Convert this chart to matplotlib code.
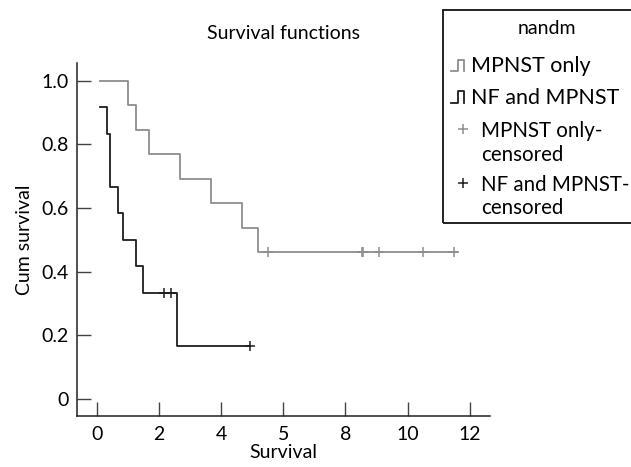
import numpy as np
import matplotlib
matplotlib.use("Agg")
import matplotlib.pyplot as plt
from matplotlib.lines import Line2D
from matplotlib.patches import Rectangle

plt.rcParams['font.family'] = ['Lato', 'DejaVu Sans']

# Kaplan-Meier estimates
mpnst_times = [0.1, 1.02, 1.25, 1.68, 2.68, 3.68, 4.68, 5.2, 11.6]
mpnst_surv = [1.0, 0.923, 0.846, 0.769, 0.692, 0.615, 0.538, 0.462, 0.462]
mpnst_cens_times = [5.52, 8.52, 8.57, 9.09, 10.5, 11.5]
mpnst_cens_surv = [0.462, 0.462, 0.462, 0.462, 0.462, 0.462]

nf_times = [0.1, 0.34, 0.43, 0.67, 0.84, 1.25, 1.5, 2.59, 4.93]
nf_surv = [0.917, 0.833, 0.667, 0.583, 0.5, 0.417, 0.333, 0.167, 0.167]
nf_cens_times = [2.17, 2.39, 4.93]
nf_cens_surv = [0.333, 0.333, 0.167]

x_ticks = [0, 2, 4, 6, 8, 10, 12]
x_ticklabels = ["0", "2", "4", "5", "8", "10", "12"]   # as printed in the original
y_ticks = [0, 0.2, 0.4, 0.6, 0.8, 1.0]
y_ticklabels = ["0", "0.2", "0.4", "0.6", "0.8", "1.0"]

legend_title = "nandm"
legend_labels = ["MPNST only", "NF and MPNST"]
legend_cens_labels = [["MPNST only-", "censored"], ["NF and MPNST-", "censored"]]

gray = "#8e8e8e"
dark = "#1e1e1e"

W, H = 631, 467
fig = plt.figure(figsize=(W / 100, H / 100), dpi=100)
ax = fig.add_axes([76.7 / W, 1 - 416 / H, (490 - 76.7) / W, (416 - 63) / H])

ax.step(mpnst_times, mpnst_surv, where="post", color=gray, lw=1.3)
ax.step(nf_times, nf_surv, where="post", color=dark, lw=1.3)
ax.plot(mpnst_cens_times, mpnst_cens_surv, "+", color=gray, ms=7, mew=1.1)
ax.plot(nf_cens_times, nf_cens_surv, "+", color=dark, ms=7, mew=1.1)

ax.set_xlim(-0.643, 12.65)
ax.set_ylim(-0.053, 1.055)
ax.set_xticks(x_ticks)
ax.set_xticklabels(x_ticklabels)
ax.set_yticks(y_ticks)
ax.set_yticklabels(y_ticklabels)
ax.tick_params(direction="in", length=10, width=1, color="#444444", labelsize=14, pad=6)
ax.tick_params(axis="x", pad=7)
for s in ["top", "right"]:
    ax.spines[s].set_visible(False)
for s in ["left", "bottom"]:
    ax.spines[s].set_linewidth(1.1)
    ax.spines[s].set_color("#222222")

ax.set_xlabel("Survival", fontsize=14, labelpad=1)
ax.set_ylabel("Cum survival", fontsize=14, labelpad=6)
ax.set_title("Survival functions", fontsize=14, pad=17)

# legend box, drawn by hand to match the original (cut off at the right edge)
def fx(px):
    return px / W

def fy(py):
    return 1 - py / H

fig.add_artist(Rectangle((fx(443), fy(223)), fx(660) - fx(443), fy(10) - fy(223),
                         transform=fig.transFigure, fill=False, ec="#111111", lw=1.3))
fig.text(fx(547), fy(29), legend_title, ha="center", va="center", fontsize=14)

# step symbols
for (top, base), col, lab in zip([(60, 71), (91, 103)], [gray, dark], legend_labels):
    xs = [451, 458, 458, 464, 464]
    ys = [base, base, top, top, base]
    fig.add_artist(Line2D([fx(v) for v in xs], [fy(v) for v in ys],
                          transform=fig.transFigure, color=col, lw=1.3))
    fig.text(fx(471), fy((top + base) / 2 + 0.5), lab, va="center", fontsize=15.5)

# censored symbols
for (y1, y2), col, lines in zip([(131, 155), (185, 208)], [gray, dark], legend_cens_labels):
    fig.add_artist(Line2D([fx(463)], [fy(y1 - 2)], marker="+", ms=7, mew=1.1, color=col,
                          transform=fig.transFigure))
    fig.text(fx(481), fy(y1), lines[0], va="center", fontsize=14.8)
    fig.text(fx(481), fy(y2), lines[1], va="center", fontsize=14.8)

fig.savefig("out.png", dpi=100)
